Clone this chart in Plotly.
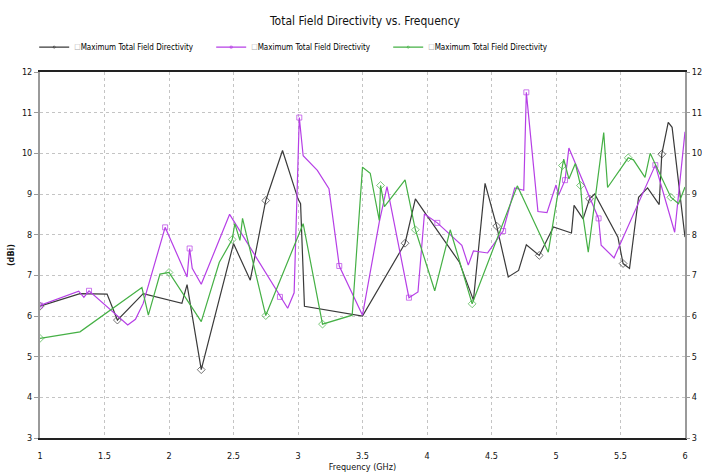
import plotly.graph_objects as go

freq_black = [1.00, 1.31, 1.52, 1.60, 1.80, 2.10, 2.14, 2.25, 2.50, 2.63, 2.75, 2.88, 3.00, 3.02, 3.05,
              3.50, 3.83, 3.91, 3.99, 4.25, 4.36, 4.45, 4.54, 4.63, 4.71, 4.77, 4.87, 4.98, 5.12, 5.14,
              5.21, 5.26, 5.30, 5.48, 5.52, 5.57, 5.64, 5.71, 5.80, 5.82, 5.87, 5.90, 6.00]
dir_black = [6.24, 6.55, 6.54, 5.90, 6.55, 6.31, 6.77, 4.68, 7.78, 6.88, 8.84, 10.07, 8.88, 8.76, 6.24,
             6.00, 7.79, 8.88, 8.51, 7.33, 6.39, 9.26, 8.21, 6.96, 7.12, 7.75, 7.49, 8.19, 8.04, 8.72,
             8.39, 8.88, 9.00, 7.94, 7.29, 7.17, 8.92, 9.15, 8.74, 9.98, 10.76, 10.64, 7.94]
mark_black = [1.00, 1.60, 2.25, 2.75, 3.83, 4.54, 4.87, 5.26, 5.52, 5.82]

freq_purple = [1.00, 1.30, 1.34, 1.38, 1.68, 1.74, 1.80, 1.97, 2.14, 2.16, 2.18, 2.25, 2.47, 2.86, 2.92,
               2.97, 3.01, 3.04, 3.15, 3.24, 3.32, 3.50, 3.63, 3.69, 3.86, 3.93, 3.98, 4.08, 4.27, 4.32,
               4.36, 4.47, 4.59, 4.68, 4.75, 4.77, 4.86, 4.93, 5.00, 5.02, 5.07, 5.10, 5.33, 5.35, 5.45,
               5.77, 5.92, 6.00]
dir_purple = [6.26, 6.61, 6.46, 6.62, 5.78, 5.92, 6.31, 8.18, 6.96, 7.66, 7.17, 6.78, 8.50, 6.47, 6.19,
              6.57, 10.88, 9.94, 9.58, 9.13, 7.23, 6.02, 8.31, 9.18, 6.45, 6.59, 8.51, 8.29, 7.74, 7.25,
              7.60, 7.55, 8.09, 9.15, 9.09, 11.50, 8.57, 8.54, 9.22, 8.97, 9.34, 10.13, 8.40, 7.74, 7.43,
              9.71, 8.06, 10.53]
mark_purple = [1.00, 1.38, 1.97, 2.16, 2.86, 3.01, 3.32, 3.86, 4.08, 4.59, 4.77, 5.07, 5.33, 5.77]

freq_green = [1.00, 1.31, 1.79, 1.84, 1.93, 2.00, 2.25, 2.39, 2.49, 2.51, 2.55, 2.57, 2.75, 3.04, 3.19,
              3.42, 3.50, 3.56, 3.63, 3.64, 3.67, 3.83, 3.91, 4.06, 4.18, 4.35, 4.70, 4.94, 5.05, 5.06,
              5.10, 5.15, 5.19, 5.21, 5.25, 5.37, 5.40, 5.56, 5.60, 5.69, 5.73, 5.89, 5.95, 6.00]
dir_green = [5.45, 5.61, 6.70, 6.02, 7.03, 7.07, 5.86, 7.32, 7.88, 8.27, 7.86, 8.40, 6.01, 8.27, 5.80,
             6.02, 9.66, 9.51, 8.35, 9.21, 8.69, 9.35, 8.12, 6.62, 8.12, 6.30, 9.20, 7.57, 9.70, 9.86,
             9.37, 9.75, 9.21, 8.43, 7.57, 10.51, 9.16, 9.89, 9.84, 9.41, 10.00, 8.92, 8.76, 9.17]
mark_green = [1.00, 2.00, 2.49, 2.75, 3.19, 3.64, 3.91, 4.35, 5.05, 5.19, 5.56, 5.89]

series_name = "Maximum Total Field Directivity"
x_ticks = [1, 1.5, 2, 2.5, 3, 3.5, 4, 4.5, 5, 5.5, 6]
y_ticks = [3, 4, 5, 6, 7, 8, 9, 10, 11, 12]

FONT = "Liberation Sans Narrow, Arial Narrow, DejaVu Sans Condensed, sans-serif"
box = "<span style='color:#aaaaaa'>☐</span>"

fig = go.Figure()
specs = [
    (freq_black, dir_black, mark_black, "#3a3a3a", "diamond-open", 6),
    (freq_purple, dir_purple, mark_purple, "#b63fe6", "square-open", 5),
    (freq_green, dir_green, mark_green, "#45b045", "diamond-open", 6),
]
for fx, dy, mk, col, sym, sz in specs:
    sizes = [sz if any(abs(f - m) < 1e-9 for m in mk) else 0 for f in fx]
    fig.add_trace(go.Scatter(
        x=fx, y=dy, mode="lines+markers", name=box + series_name,
        line=dict(color=col, width=1.2),
        marker=dict(symbol=sym, size=sizes, color=col, line=dict(width=1, color=col)),
    ))

# invisible trace for the right-hand mirrored axis
fig.add_trace(go.Scatter(x=freq_green, y=dir_green, yaxis="y2", mode="lines",
                         line=dict(width=0), opacity=0, showlegend=False, hoverinfo="skip"))

fig.update_layout(
    width=702, height=473,
    margin=dict(l=40, r=17, t=72, b=35),
    paper_bgcolor="white", plot_bgcolor="white",
    font=dict(family=FONT, size=9, color="#111111"),
    title=dict(text="Total Field Directivity vs. Frequency", x=0.52, xanchor="center",
               y=0.957, yanchor="middle", font=dict(family=FONT, size=12, color="#111111")),
    legend=dict(orientation="h", x=-0.009, xanchor="left", y=1.068, yanchor="middle",
                font=dict(family=FONT, size=8, color="#000000"), itemsizing="trace",
                entrywidth=132, entrywidthmode="pixels", itemwidth=30,
                bgcolor="rgba(0,0,0,0)"),
    xaxis=dict(range=[1, 6], tickvals=x_ticks, ticktext=[str(t) for t in x_ticks],
               showgrid=True, gridcolor="#c4c4c4", griddash="dot", gridwidth=1,
               showline=True, linecolor="#222222", linewidth=1.5, mirror=True,
               ticks="", ticklabelstandoff=8, zeroline=False, automargin=False,
               title=dict(text="Frequency (GHz)", standoff=4, font=dict(family=FONT, size=9))),
    yaxis=dict(range=[3, 12], tickvals=y_ticks, showgrid=True, gridcolor="#c4c4c4",
               griddash="dot", gridwidth=1, showline=True, linecolor="#9a9a9a", linewidth=2,
               mirror=True, ticks="outside", ticklen=4, tickcolor="#9a9a9a", zeroline=False,
               automargin=False,
               title=dict(text="<b>(dBi)</b>", standoff=6, font=dict(family=FONT, size=9))),
    yaxis2=dict(range=[3, 12], tickvals=y_ticks, overlaying="y", side="right",
                showgrid=False, zeroline=False, ticks="outside", ticklen=4, tickcolor="#9a9a9a",
                showline=False, automargin=False),
)

fig.write_html("out.html")
